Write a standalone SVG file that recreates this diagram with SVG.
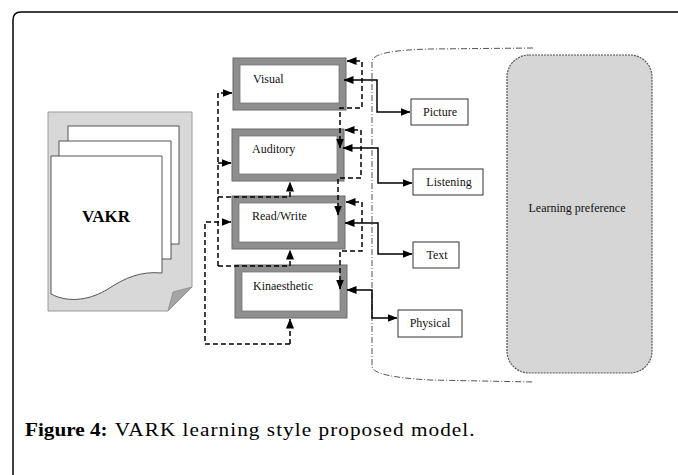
<svg xmlns="http://www.w3.org/2000/svg" width="678" height="475" viewBox="0 0 678 475">
<defs>
<marker id="ah" markerUnits="userSpaceOnUse" markerWidth="10" markerHeight="8" refX="9.5" refY="4" orient="auto-start-reverse">
<path d="M0,0 L10,4 L0,8 Z" fill="#000"/>
</marker>
<style>
.lbl{font-family:"Liberation Serif","Times New Roman",serif;font-size:12px;fill:#111}
.outer{fill:#8e8e8e;stroke:#6a6a6a;stroke-width:1}
.inner{fill:#fff;stroke:#777;stroke-width:0.8}
.small{fill:#fff;stroke:#333;stroke-width:1}
.dash{fill:none;stroke:#000;stroke-width:1.5;stroke-dasharray:5,3}
.solid{fill:none;stroke:#000;stroke-width:1.5}
.page{fill:#fff;stroke:#555;stroke-width:1}
</style>
</defs>
<rect width="678" height="475" fill="#fff"/>
<path d="M13,475 V20 Q13,12 21,12 H678" fill="none" stroke="#000" stroke-width="1.5"/>

<g id="vakr">
<path d="M48,112 H192 V287 L168,311 H48 Z" fill="#d8d8d8" stroke="#9a9a9a" stroke-width="1"/>
<path d="M192,287 L168,311 L173,292 Z" fill="#a5a5a5" stroke="#8a8a8a" stroke-width="0.8"/>
<rect class="page" x="68" y="126" width="111" height="118"/>
<rect class="page" x="59" y="141" width="112" height="118"/>
<path class="page" d="M51,156 H162 V273 C140,271 125,278 108,289 C92,299 70,304 51,294 Z"/>
<text x="106" y="222" text-anchor="middle" font-family="'Liberation Serif', 'Times New Roman', serif" font-size="17" font-weight="bold" fill="#000">VAKR</text>
</g>

<g id="boundary">
<path d="M533,48 L430,49 C395,50 372,53 372,62 V366 C372,374 395,378 430,380 L533,382" fill="none" stroke="#555" stroke-width="1" stroke-dasharray="6,2,1,2"/>
</g>

<g id="learning-preference">
<rect x="507" y="55" width="145" height="318" rx="22" fill="#d6d6d6" stroke="#555" stroke-width="1.2" stroke-dasharray="2,1"/>
<text class="lbl" x="577" y="212" text-anchor="middle">Learning preference</text>
</g>

<g id="visual">
<rect class="outer" x="233" y="58" width="113" height="52"/>
<rect class="inner" x="240" y="65" width="99" height="38"/>
<text class="lbl" x="253" y="83">Visual</text>
</g>
<g id="auditory">
<rect class="outer" x="232" y="129" width="112" height="52"/>
<rect class="inner" x="239" y="136" width="98" height="38"/>
<text class="lbl" x="252" y="153">Auditory</text>
</g>
<g id="readwrite">
<rect class="outer" x="232" y="196" width="113" height="53"/>
<rect class="inner" x="239" y="203" width="99" height="39"/>
<text class="lbl" x="252" y="220">Read/Write</text>
</g>
<g id="kinaesthetic">
<rect class="outer" x="235" y="265" width="112" height="53"/>
<rect class="inner" x="242" y="272" width="98" height="39"/>
<text class="lbl" x="253" y="290">Kinaesthetic</text>
</g>

<g id="picture">
<rect class="small" x="411" y="99" width="57" height="26"/>
<text class="lbl" x="440" y="116" text-anchor="middle">Picture</text>
</g>
<g id="listening">
<rect class="small" x="413" y="169" width="70" height="26"/>
<text class="lbl" x="449" y="186" text-anchor="middle">Listening</text>
</g>
<g id="text">
<rect class="small" x="413" y="242" width="46" height="26"/>
<text class="lbl" x="437" y="259" text-anchor="middle">Text</text>
</g>
<g id="physical">
<rect class="small" x="398" y="310" width="64" height="27"/>
<text class="lbl" x="430" y="327" text-anchor="middle">Physical</text>
</g>

<g id="connectors">
<path class="dash" d="M218,266 V93 H232" marker-end="url(#ah)"/>
<path class="dash" d="M218,163 H231" marker-end="url(#ah)"/>
<path class="dash" d="M218,197 H290 V182" marker-end="url(#ah)"/>
<path class="dash" d="M218,266 H290 V250" marker-end="url(#ah)"/>
<path class="dash" d="M290,344 H205 V222 H231" marker-end="url(#ah)"/>
<path class="dash" d="M290,344 V319" marker-end="url(#ah)"/>
<path class="dash" d="M347,61 H362 V108 H340 V148" marker-start="url(#ah)" marker-end="url(#ah)"/>
<path class="dash" d="M345,130 H361 V178 H338 V215" marker-start="url(#ah)" marker-end="url(#ah)"/>
<path class="dash" d="M346,202 H362 V251 H340 V289" marker-start="url(#ah)" marker-end="url(#ah)"/>
<path class="solid" d="M344,80 H377 V112 H410" marker-start="url(#ah)" marker-end="url(#ah)"/>
<path class="solid" d="M343,148 H378 V183 H412" marker-start="url(#ah)" marker-end="url(#ah)"/>
<path class="solid" d="M345,223 H378 V254 H412" marker-start="url(#ah)" marker-end="url(#ah)"/>
<path class="solid" d="M347,290 H372 V318 H397" marker-start="url(#ah)" marker-end="url(#ah)"/>
</g>

<g transform="translate(25,436) scale(1.18,1)">
<text x="0" y="0" font-family="'Liberation Serif', 'Times New Roman', serif" font-size="18" fill="#000"><tspan font-weight="bold" textLength="70" lengthAdjust="spacing">Figure 4:</tspan><tspan x="76" textLength="305" lengthAdjust="spacing">VARK learning style proposed model.</tspan></text>
</g>
</svg>
